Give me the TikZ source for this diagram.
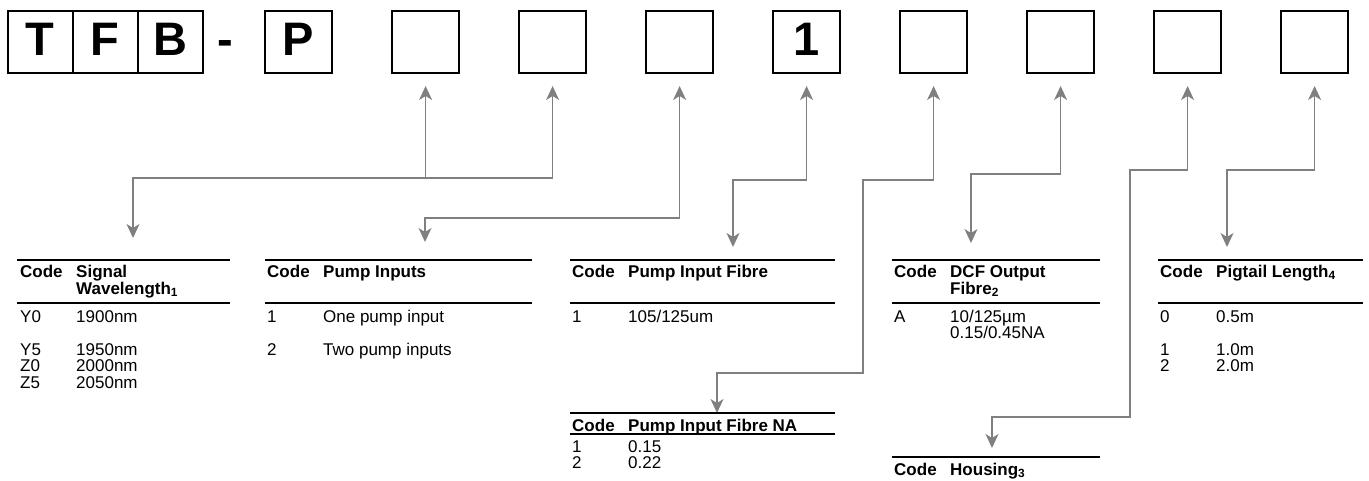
\documentclass[tikz,border=0pt]{standalone}
\usepackage{fontspec}
\setmainfont{Liberation Sans}
\usetikzlibrary{positioning,arrows.meta}
\definecolor{linkgrey}{RGB}{128,128,128}

\begin{document}
\begin{tikzpicture}[x=1pt,y=-1pt,
  cbox/.style={draw,line width=2pt,outer sep=0pt,inner sep=0pt,minimum width=67pt,
    minimum height=62pt,text height=34pt,text depth=8pt,font=\fontsize{47}{47}\selectfont\bfseries},
  >={Stealth[length=14pt,width=13pt,inset=4pt]},
  link/.style={draw=linkgrey,line width=1.4pt,<->},
  hd/.style={anchor=base west,inner sep=0pt,font=\fontsize{17}{17}\selectfont\bfseries},
  cell/.style={anchor=base west,inner sep=0pt,font=\fontsize{17}{17}\selectfont},
  rule/.style={line width=1.6pt}]
\useasboundingbox (0,0) rectangle (1369,480);

% the code boxes
\node[cbox,minimum width=65pt] (T) at (40,42) {T};
\node[cbox,minimum width=65pt,right=0pt of T] (F) {F};
\node[cbox,minimum width=65pt,right=0pt of F] (B) {B};
\node[font=\fontsize{47}{47}\selectfont\bfseries,inner sep=0pt,text height=34pt,text depth=8pt] (dash) at (225,42) {-};
\node[cbox] (P) at (298.6,42) {P};
\node[cbox,right=60pt of P] (c1) {};
\node[cbox,right=60pt of c1] (c2) {};
\node[cbox,right=60pt of c2] (c3) {};
\node[cbox,right=60pt of c3] (c4) {1};
\node[cbox,right=60pt of c4] (c5) {};
\node[cbox,right=60pt of c5] (c6) {};
\node[cbox,right=60pt of c6] (c7) {};
\node[cbox,right=60pt of c7] (c8) {};

\foreach \i in {1,...,8}
  \coordinate[below=13pt of c\i] (u\i);

% bends and ends of the connectors
\coordinate (sigbend) at (133,178);
\coordinate (sigend) at (133,238);
\coordinate (pumpbend) at (425,218);
\coordinate (pumpend) at (425,242);
\coordinate (pifbend) at (733,180);
\coordinate (pifend) at (733,247);
\coordinate (nabend) at (863,180);
\coordinate (nabend2) at (717,373);
\coordinate (naend) at (717,413);
\coordinate (dcfbend) at (971,174);
\coordinate (dcfend) at (971,243);
\coordinate (houbend) at (1130,170);
\coordinate (houbend2) at (992,417);
\coordinate (houend) at (992,448);
\coordinate (pigbend) at (1227,170);
\coordinate (pigend) at (1227,247);

\draw[link] (u2) |- (sigbend) -- (sigend);
\draw[link,->] (u1 |- sigbend) -- (u1);
\draw[link] (u3) |- (pumpbend) -- (pumpend);
\draw[link] (u4) |- (pifbend) -- (pifend);
\draw[link] (u5) |- (nabend) |- (nabend2) -- (naend);
\draw[link] (u6) |- (dcfbend) -- (dcfend);
\draw[link] (u7) |- (houbend) |- (houbend2) -- (houend);
\draw[link] (u8) |- (pigbend) -- (pigend);

% signal wavelength
\draw[rule] (17,260) -- (230,260) (17,303) -- (230,303);
\node[hd] (sigcode) at (20,277) {Code};
\node[hd] (sighd) at (76,277) {Signal};
\node[hd] (sighd2) at (76,294) {Wavelength\textsubscript{1}};
\foreach \c/\v/\y in {Y0/1900nm/322,Y5/1950nm/355,Z0/2000nm/371.5,Z5/2050nm/388}{
  \node[cell] (sig\c) at (20,\y) {\c};
  \node[cell] (sigv\c) at (76,\y) {\v};
}

% pump inputs
\draw[rule] (265,260) -- (532,260) (265,303) -- (532,303);
\node[hd] (pumpcode) at (267,277) {Code};
\node[hd] (pumphd) at (323,277) {Pump Inputs};
\node[cell] (pump1) at (267,322) {1};
\node[cell] (pumpv1) at (323,322) {One pump input};
\node[cell] (pump2) at (267,355) {2};
\node[cell] (pumpv2) at (323,355) {Two pump inputs};

% pump input fibre
\draw[rule] (570,260) -- (835,260) (570,303) -- (835,303);
\node[hd] (pifcode) at (572,277) {Code};
\node[hd] (pifhd) at (628,277) {Pump Input Fibre};
\node[cell] (pif1) at (572,322) {1};
\node[cell] (pifv1) at (628,322) {105/125um};

% pump input fibre NA
\draw[rule] (570,413) -- (835,413) (570,434) -- (835,434);
\node[hd] (nacode) at (572,431) {Code};
\node[hd] (nahd) at (628,431) {Pump Input Fibre NA};
\node[cell] (na1) at (572,452) {1};
\node[cell] (nav1) at (628,452) {0.15};
\node[cell] (na2) at (572,468) {2};
\node[cell] (nav2) at (628,468) {0.22};

% DCF output fibre
\draw[rule] (892,260) -- (1100,260) (892,303) -- (1100,303);
\node[hd] (dcfcode) at (894,277) {Code};
\node[hd] (dcfhd) at (950,277) {DCF Output};
\node[hd] (dcfhd2) at (950,294) {Fibre\textsubscript{2}};
\node[cell] (dcfA) at (894,322) {A};
\node[cell] (dcfvA) at (950,322) {10/125µm};
\node[cell] (dcfvA2) at (950,338.5) {0.15/0.45NA};

% housing
\draw[rule] (892,457) -- (1100,457);
\node[hd] (houcode) at (894,475) {Code};
\node[hd] (houhd) at (950,475) {Housing\textsubscript{3}};

% pigtail length
\draw[rule] (1158,260) -- (1363,260) (1158,303) -- (1363,303);
\node[hd] (pigcode) at (1160,277) {Code};
\node[hd] (pighd) at (1216,277) {Pigtail Length\textsubscript{4}};
\foreach \c/\v/\y in {0/0.5m/322,1/1.0m/355,2/2.0m/371.5}{
  \node[cell] (pig\c) at (1160,\y) {\c};
  \node[cell] (pigv\c) at (1216,\y) {\v};
}
\end{tikzpicture}
\end{document}
